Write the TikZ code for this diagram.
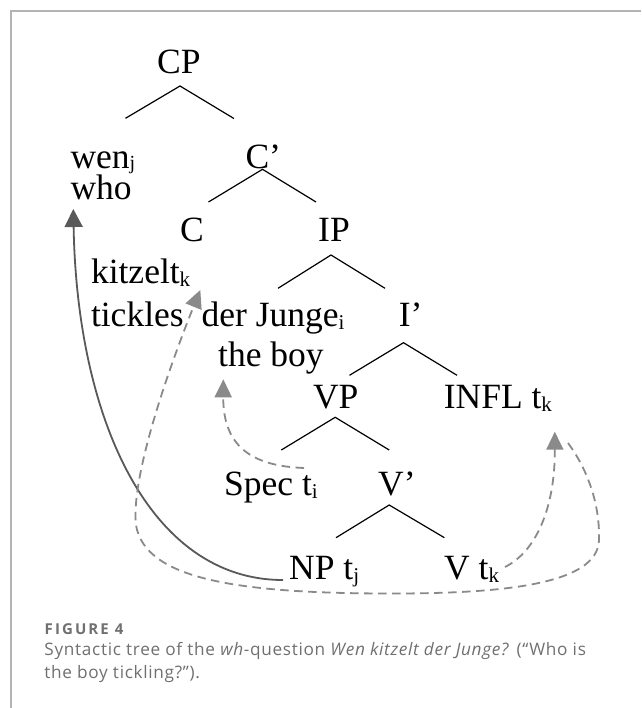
\documentclass[tikz,border=0pt]{standalone}
\usepackage{fontspec}
\setmainfont{Liberation Serif}
\newfontfamily\capfont[LetterSpace=4]{Open Sans}
\newfontfamily\capheadfont[LetterSpace=14]{Open Sans}
\usetikzlibrary{arrows.meta}
\definecolor{solidgray}{HTML}{595959}
\definecolor{dashgray}{HTML}{8A8A8A}
\definecolor{framegray}{HTML}{B4B4B4}
\definecolor{capgray}{HTML}{707070}
\newcommand{\lsub}[1]{\raisebox{-3pt}{\fontsize{21}{21}\selectfont #1}}
\newcommand{\wsub}[1]{\raisebox{-1.5pt}{\fontsize{20}{20}\selectfont #1}}
\begin{document}
\begin{tikzpicture}[x=1pt,y=-1pt,
  lab/.style={anchor=base west,inner sep=0pt,font=\fontsize{35.5}{40}\selectfont},
  branch/.style={draw=black,line width=1.2pt},
  mvsolid/.style={draw=solidgray,line width=1.8pt,-{Triangle[width=18pt,length=18pt]}},
  mvdash/.style={draw=dashgray,line width=1.8pt,dash pattern=on 8.5pt off 5.5pt,-{Triangle[width=17pt,length=18pt]}},
  captext/.style={anchor=base west,inner sep=0pt,text=capgray,font=\capfont\fontsize{17.2}{20}\selectfont},
  caphead/.style={anchor=base west,inner sep=0pt,text=capgray,font=\capheadfont\bfseries\fontsize{15}{18}\selectfont},
  ]
\useasboundingbox[fill=white] (0,0) rectangle (641,708);
% frame
\draw[framegray,line width=1.3pt] (11,708) -- (11,11) -- (641,11);

% tree labels
\node[lab] (CP) at (157,73.3) {CP};
\node[lab] (wen) at (70.3,168.3) {wen\wsub{j}};
\node[lab] (who) at (70.3,200) {who};
\node[lab] (Cbar) at (245.3,168.3) {C’};
\node[lab] (C) at (180,241.7) {C};
\node[lab] (IP) at (318,241.7) {IP};
\node[lab] (kitzelt) at (90.8,283.3) {kitzelt\lsub{k}};
\node[lab] (tickles) at (90.8,326.7) {tickles};
\node[lab] (junge) at (201.5,326.7) {der Junge\lsub{i}};
\node[lab] (boy) at (218,366.7) {the boy};
\node[lab] (Ibar) at (398.6,326.7) {I’};
\node[lab] (VP) at (312.8,408.3) {VP};
\node[lab] (INFL) at (443.6,408.3) {INFL t\lsub{k}};
\node[lab] (spec) at (224,495) {Spec t\lsub{i}};
\node[lab] (Vbar) at (378,495) {V’};
\node[lab] (NP) at (289,579) {NP t\lsub{j}};
\node[lab] (V) at (444,579) {V t\lsub{k}};

% branch points
\coordinate (CPa) at (180,86);   \coordinate (CPl) at (125.5,118.3); \coordinate (CPr) at (233.9,118.5);
\coordinate (Cba) at (262.5,169.3); \coordinate (Cbl) at (208.5,202); \coordinate (Cbr) at (316,202);
\coordinate (IPa) at (331,255);  \coordinate (IPl) at (278,288.3);  \coordinate (IPr) at (385,288.3);
\coordinate (Iba) at (403.5,342.7); \coordinate (Ibl) at (349.5,375.3); \coordinate (Ibr) at (457,375.3);
\coordinate (VPa) at (335.2,417.3); \coordinate (VPl) at (281.3,450); \coordinate (VPr) at (389.2,450);
\coordinate (Vba) at (389.2,505); \coordinate (Vbl) at (336,537.7); \coordinate (Vbr) at (444.4,537.7);

\draw[branch] (CPl) -- (CPa) -- (CPr);
\draw[branch] (Cbl) -- (Cba) -- (Cbr);
\draw[branch] (IPl) -- (IPa) -- (IPr);
\draw[branch] (Ibl) -- (Iba) -- (Ibr);
\draw[branch] (VPl) -- (VPa) -- (VPr);
\draw[branch] (Vbl) -- (Vba) -- (Vbr);

% movement arrows
\coordinate (NPs) at (283,580);   \coordinate (whoT) at (73.3,209);
\coordinate (specS) at (304,468); \coordinate (boyT) at (223.3,379.3);
\coordinate (VS) at (505,567);    \coordinate (INFLT) at (554.8,431.7);
\coordinate (INFLS) at (568,443); \coordinate (kitT) at (200.3,290);

\draw[mvsolid] (NPs) .. controls (150,580) and (77,420) .. (whoT);
\draw[mvdash] (specS) .. controls (250,466) and (223,445) .. (boyT);
\draw[mvdash] (VS) .. controls (535,552) and (555,510) .. (INFLT);
\draw[mvdash] (INFLS) .. controls (588,470) and (600,505) .. (599,540)
  .. controls (598,585) and (500,593) .. (400,593.5)
  .. controls (240,594) and (145,580) .. (136,525)
  .. controls (130,470) and (180,340) .. (kitT);

% caption
\node[caphead] (fig) at (44.5,634) {FIGURE 4};
\node[captext] (cap1) at (44.2,655) {Syntactic tree of the \textit{wh}-question \textit{Wen kitzelt der Junge?} (“Who is};
\node[captext] (cap2) at (44.2,678.5) {the boy tickling?”).};
\end{tikzpicture}
\end{document}
